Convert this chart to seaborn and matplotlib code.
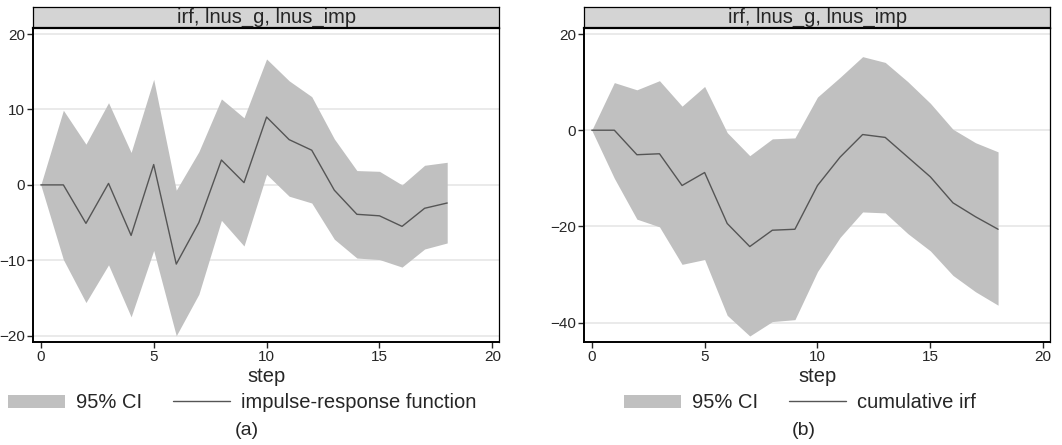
import numpy as np
import pandas as pd
import matplotlib
matplotlib.use('Agg')
import matplotlib.pyplot as plt
from matplotlib.patches import Patch
from matplotlib.lines import Line2D
import seaborn as sns

sns.set_style('white')
plt.rcParams['font.family'] = ['Liberation Sans', 'DejaVu Sans']

#### DATA ####################################
steps = list(range(19))

# panel (a) impulse-response function
irf_a = [0, 0, -5.1, 0.2, -6.7, 2.7, -10.5, -5.0, 3.3, 0.3, 9.0, 6.0, 4.6, -0.7, -3.9, -4.1, -5.5, -3.1, -2.4]
upper_a = [0, 9.9, 5.4, 10.9, 4.3, 14.0, -0.7, 4.4, 11.4, 8.9, 16.7, 13.8, 11.7, 6.1, 1.9, 1.8, 0.0, 2.6, 3.0]
lower_a = [0, -9.9, -15.6, -10.6, -17.5, -8.7, -20.0, -14.5, -4.7, -8.1, 1.4, -1.5, -2.4, -7.2, -9.7, -9.9, -10.9, -8.5, -7.7]

# panel (b) cumulative irf
irf_b = [0, 0, -5.1, -4.9, -11.5, -8.8, -19.4, -24.2, -20.8, -20.6, -11.5, -5.6, -0.9, -1.5, -5.6, -9.7, -15.1, -18.0, -20.6]
upper_b = [0, 9.9, 8.4, 10.3, 5.0, 9.1, -0.5, -5.3, -1.8, -1.6, 6.9, 11.0, 15.3, 14.1, 10.1, 5.6, 0.2, -2.6, -4.5]
lower_b = [0, -10.0, -18.5, -20.1, -27.9, -26.9, -38.5, -42.8, -39.8, -39.4, -29.4, -22.3, -17.0, -17.2, -21.5, -25.1, -30.2, -33.6, -36.4]

strip_title = 'irf, lnus_g, lnus_imp'
x_ticks = [0, 5, 10, 15, 20]
y_ticks_a = [-20, -10, 0, 10, 20]
y_ticks_b = [-40, -20, 0, 20]

CI_COLOR = '#c0c0c0'
LINE_COLOR = '#555555'

fig = plt.figure(figsize=(10.62, 4.45), dpi=100)

def panel(left, width, irf, lower, upper, yticks, ylim, line_label, sub_label, leg_x, sub_x):
    ax = fig.add_axes([left, 0.232, width, 0.705])
    df = pd.DataFrame({'step': steps, 'irf': irf, 'lower': lower, 'upper': upper})
    ax.fill_between(df['step'], df['lower'], df['upper'], color=CI_COLOR, lw=0, zorder=1)
    sns.lineplot(data=df, x='step', y='irf', ax=ax, color=LINE_COLOR, lw=1, zorder=2)
    ax.set_xlim(-0.33, 20.3)
    ax.set_ylim(*ylim)
    ax.set_xticks(x_ticks)
    ax.set_yticks(yticks)
    ax.yaxis.grid(True, color='#e6e6e6', lw=1.2)
    ax.set_axisbelow(True)
    ax.tick_params(axis='both', direction='out', length=4, width=1, labelsize=11, pad=2,
                   bottom=True, left=True)
    ax.set_xlabel('step', fontsize=14.5, labelpad=2)
    ax.set_ylabel('')
    for s in ['left', 'bottom']:
        ax.spines[s].set_linewidth(1.4)
        ax.spines[s].set_color('black')
    ax.spines['right'].set_linewidth(0.9)
    ax.spines['right'].set_color('black')
    ax.spines['top'].set_visible(False)
    if ax.get_legend() is not None:
        ax.get_legend().remove()

    # strip header like stata
    sax = fig.add_axes([left, 0.937, width, 0.047])
    sax.set_facecolor('#d4d4d4')
    sax.set_xticks([])
    sax.set_yticks([])
    for s in sax.spines.values():
        s.set_color('black')
        s.set_linewidth(0.9)
    sax.spines['bottom'].set_linewidth(1.6)
    sax.text(0.5, 0.24, strip_title, ha='center', va='baseline', fontsize=14.5,
             transform=sax.transAxes, zorder=5)

    handles = [Patch(facecolor=CI_COLOR, edgecolor='none'),
               Line2D([0], [0], color=LINE_COLOR, lw=1)]
    fig.legend(handles, ['95% CI', line_label], loc='center left', bbox_to_anchor=(leg_x, 0.095),
               ncol=2, frameon=False, fontsize=14.5, handlelength=2.85, handleheight=0.6,
               handletextpad=0.55, columnspacing=1.5, borderaxespad=0, borderpad=0)
    fig.text(sub_x, 0.033, sub_label, ha='center', va='center', fontsize=14)
    return ax

panel(0.0314, 0.4386, irf_a, lower_a, upper_a, y_ticks_a, (-20.8, 20.8),
      'impulse-response function', '(a)', 0.0075, 0.2325)
panel(0.5502, 0.4385, irf_b, lower_b, upper_b, y_ticks_b, (-44.0, 21.25),
      'cumulative irf', '(b)', 0.5875, 0.7565)

fig.savefig('out.png', dpi=100)
